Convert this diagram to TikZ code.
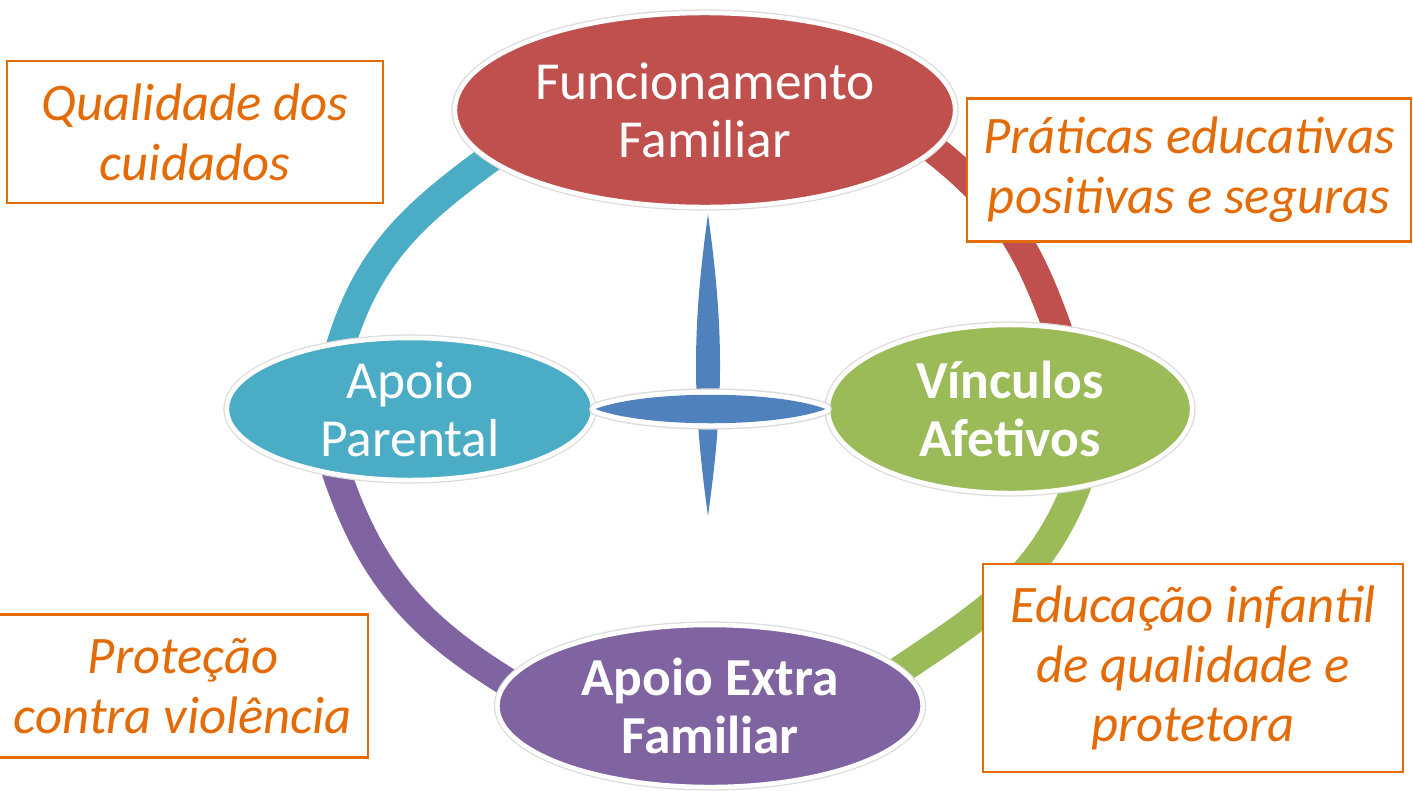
\documentclass[tikz,border=0pt]{standalone}
\usepackage{fontspec}
\setmainfont{Carlito}
\usetikzlibrary{shapes.geometric,backgrounds}

\definecolor{famred}{HTML}{C0504D}
\definecolor{parblue}{HTML}{4BACC6}
\definecolor{vingreen}{HTML}{9BBB59}
\definecolor{extpurple}{HTML}{8064A2}
\definecolor{crossblue}{HTML}{4F81BD}
\definecolor{noteorange}{HTML}{E36C09}

\tikzset{
  bubble/.style={ellipse, draw=white, line width=1.3pt, text=white, align=center,
    inner sep=0pt, font=\fontsize{15.2}{16.6}\selectfont,
    preaction={draw=black!14, line width=2pt}},
  strong/.style={font=\fontsize{15.2}{16.6}\selectfont\bfseries},
  note/.style={draw=noteorange, fill=white, line width=0.7pt, text=noteorange,
    align=center, inner sep=0pt, font=\fontsize{15}{17}\selectfont\itshape},
  ring/.style={line width=8.2pt, shorten <=-4pt, shorten >=-4pt},
  lens/.style={fill=crossblue,
    preaction={draw=black!14, line width=3.6pt, line join=round},
    preaction={draw=white, line width=2.8pt, line join=round}},
}

\begin{document}
\begin{tikzpicture}[x=0.01cm, y=0.01cm]
  \useasboundingbox (0,0) rectangle (1413,790);

  \node[bubble, fill=famred, minimum width=5cm, minimum height=1.94cm] (func) at (705,680) {Funcionamento\\Familiar};
  \node[bubble, fill=parblue, minimum width=3.66cm, minimum height=1.42cm] (parental) at (410,381) {Apoio\\Parental};
  \node[bubble, strong, fill=vingreen, minimum width=3.64cm, minimum height=1.68cm] (vinc) at (1010,381) {Vínculos\\Afetivos};
  \node[bubble, strong, fill=extpurple, minimum width=4.25cm, minimum height=1.62cm] (extra) at (710,84) {Apoio Extra\\Familiar};

  \begin{pgfonlayer}{background}
    \draw[ring, parblue] (parental.135) to[out=74, in=216] (func.193);
    \draw[ring, famred] (vinc.61) to[out=109, in=323] (func.350);
    \draw[ring, extpurple] (parental.223) to[out=288, in=149] (extra.173);
    \draw[ring, vingreen] (vinc.309) to[out=250, in=34] (extra.11);
  \end{pgfonlayer}

  % the cross
  \coordinate (vtop) at (708,576);
  \coordinate (vbot) at (708,274);
  \fill[crossblue] (vtop) .. controls +(16,-115) and +(16,115) .. (vbot)
    .. controls +(-16,115) and +(-16,-115) .. (vtop) -- cycle;
  \path[lens] (parental.east) .. controls +(50,19) and +(-50,19) .. (vinc.west)
    .. controls +(-50,-19) and +(50,-19) .. (parental.east) -- cycle;

  \node[note, minimum width=3.76cm, minimum height=1.42cm] (care) at (195,658) {Qualidade dos\\cuidados};
  \node[note, minimum width=4.44cm, minimum height=1.43cm] (practice) at (1189,620) {Práticas educativas\\positivas e seguras};
  \node[note, minimum width=3.70cm, minimum height=1.43cm] (protect) at (183,104) {Proteção\\contra violência};
  \node[note, minimum width=4.20cm, minimum height=2.08cm] (school) at (1193,122) {Educação infantil\\de qualidade e\\protetora};
\end{tikzpicture}
\end{document}
